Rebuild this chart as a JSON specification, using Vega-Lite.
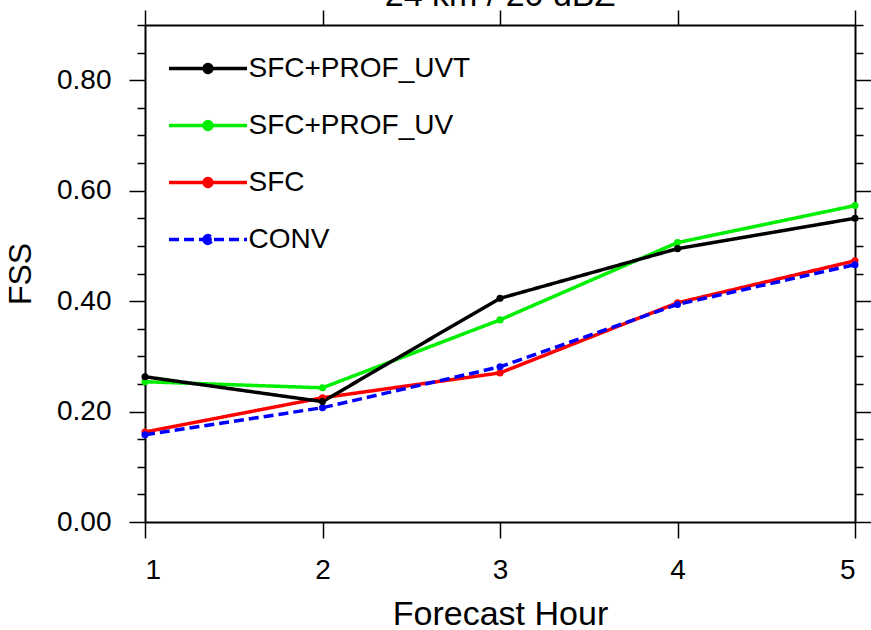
{
  "$schema": "https://vega.github.io/schema/vega-lite/v6.json",
  "width": 710,
  "height": 497,
  "autosize": "none",
  "padding": {"left": 145, "top": 25, "right": 16, "bottom": 108},
  "background": "white",
  "title": {"text": "24 km / 20 dBZ", "fontSize": 34, "font": "Liberation Sans", "fontWeight": "normal", "anchor": "middle", "baseline": "alphabetic", "offset": -31, "color": "black"},
  "config": {
    "view": {"stroke": null},
    "axis": {"grid": false, "domainColor": "black", "domainWidth": 2, "tickColor": "black", "tickWidth": 1.5, "labelFont": "Liberation Sans", "titleFont": "Liberation Sans", "labelColor": "black", "titleColor": "black", "titleFontWeight": "normal"},
    "legend": {"orient": "none", "legendX": 41.5, "legendY": 22, "title": null, "padding": 0, "symbolType": "M-2,0H2M-0.2,0A0.2,0.2 0 1,0 0.2,0A0.2,0.2 0 1,0 -0.2,0", "symbolSize": 1521, "symbolStrokeWidth": 3.5, "labelFontSize": 28, "labelFont": "Liberation Sans", "labelOffset": 19, "rowPadding": 21, "labelColor": "black", "labelLimit": 400}
  },
  "data": {"values": [
    {"hour": 1, "series": "SFC", "fss": 0.163},
    {"hour": 2, "series": "SFC", "fss": 0.225},
    {"hour": 3, "series": "SFC", "fss": 0.270},
    {"hour": 4, "series": "SFC", "fss": 0.397},
    {"hour": 5, "series": "SFC", "fss": 0.473},
    {"hour": 1, "series": "CONV", "fss": 0.158},
    {"hour": 2, "series": "CONV", "fss": 0.207},
    {"hour": 3, "series": "CONV", "fss": 0.281},
    {"hour": 4, "series": "CONV", "fss": 0.394},
    {"hour": 5, "series": "CONV", "fss": 0.466},
    {"hour": 1, "series": "SFC+PROF_UV", "fss": 0.254},
    {"hour": 2, "series": "SFC+PROF_UV", "fss": 0.243},
    {"hour": 3, "series": "SFC+PROF_UV", "fss": 0.366},
    {"hour": 4, "series": "SFC+PROF_UV", "fss": 0.506},
    {"hour": 5, "series": "SFC+PROF_UV", "fss": 0.573},
    {"hour": 1, "series": "SFC+PROF_UVT", "fss": 0.263},
    {"hour": 2, "series": "SFC+PROF_UVT", "fss": 0.218},
    {"hour": 3, "series": "SFC+PROF_UVT", "fss": 0.405},
    {"hour": 4, "series": "SFC+PROF_UVT", "fss": 0.495},
    {"hour": 5, "series": "SFC+PROF_UVT", "fss": 0.550}
  ]},
  "layer": [
    {
      "mark": {"type": "line", "strokeWidth": 3.5},
      "encoding": {
        "x": {"field": "hour", "type": "quantitative", "scale": {"domain": [1, 5], "nice": false, "zero": false},
              "axis": {"orient": "bottom", "values": [1, 2, 3, 4, 5], "format": "d", "tickSize": 16, "labelPadding": 18, "labelFontSize": 28, "title": "Forecast Hour", "titleFontSize": 34, "titlePadding": 13}},
        "y": {"field": "fss", "type": "quantitative", "scale": {"domain": [0, 0.9], "nice": false},
              "axis": {"orient": "left", "values": [0, 0.2, 0.4, 0.6, 0.8], "format": ".2f", "tickSize": 16, "labelPadding": 18, "labelFontSize": 28, "title": "FSS", "titleFontSize": 32, "titlePadding": 19}},
        "color": {"field": "series", "type": "nominal",
                  "scale": {"domain": ["SFC+PROF_UVT", "SFC+PROF_UV", "SFC", "CONV"], "range": ["#000000", "#00ee00", "#ff0000", "#0000ff"]},
                  "legend": {"encode": {"symbols": {"update": {"fill": {"scale": "color", "field": "value"}}}}}},
        "strokeDash": {"field": "series", "type": "nominal",
                  "scale": {"domain": ["SFC+PROF_UVT", "SFC+PROF_UV", "SFC", "CONV"], "range": [[1, 0], [1, 0], [1, 0], [10, 5]]}}
      }
    },
    {
      "mark": {"type": "point", "filled": true, "size": 50, "opacity": 1},
      "encoding": {
        "x": {"field": "hour", "type": "quantitative", "axis": null},
        "y": {"field": "fss", "type": "quantitative", "axis": null},
        "color": {"field": "series", "type": "nominal"}
      }
    },
    {
      "mark": {"type": "line", "opacity": 0},
      "encoding": {
        "x": {"field": "hour", "type": "quantitative", "axis": {"orient": "top", "values": [1, 2, 3, 4, 5], "tickSize": 15, "labels": false, "title": null}},
        "y": {"field": "fss", "type": "quantitative", "axis": {"orient": "right", "values": [0, 0.2, 0.4, 0.6, 0.8], "tickSize": 16, "labels": false, "title": null}}
      }
    },
    {
      "mark": {"type": "line", "opacity": 0},
      "encoding": {
        "x": {"field": "hour", "type": "quantitative", "axis": null},
        "y": {"field": "fss", "type": "quantitative", "axis": {"orient": "left", "values": [0.05, 0.1, 0.15, 0.25, 0.3, 0.35, 0.45, 0.5, 0.55, 0.65, 0.7, 0.75, 0.85, 0.9], "tickSize": 8, "labels": false, "domain": false, "title": null}}
      }
    },
    {
      "mark": {"type": "line", "opacity": 0},
      "encoding": {
        "x": {"field": "hour", "type": "quantitative", "axis": null},
        "y": {"field": "fss", "type": "quantitative", "axis": {"orient": "right", "values": [0.05, 0.1, 0.15, 0.25, 0.3, 0.35, 0.45, 0.5, 0.55, 0.65, 0.7, 0.75, 0.85, 0.9], "tickSize": 8, "labels": false, "domain": false, "title": null}}
      }
    }
  ],
  "resolve": {"axis": {"x": "independent", "y": "independent"}}
}
